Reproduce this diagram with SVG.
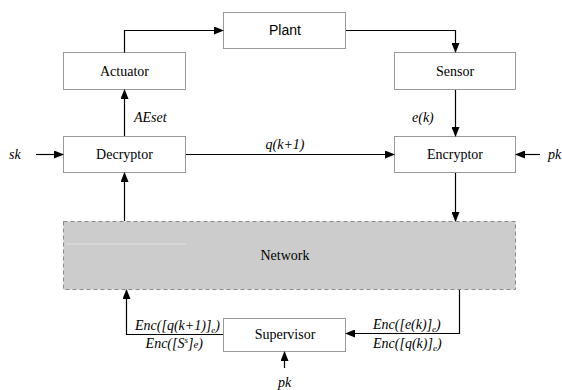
<svg xmlns="http://www.w3.org/2000/svg" width="562" height="390" viewBox="0 0 562 390">
<style>
.box{fill:#fff;stroke:#999;stroke-width:1}
.net{fill:#cccccc;stroke:#888;stroke-width:1;stroke-dasharray:4,3}
.t{font-family:'Liberation Serif','DejaVu Serif',serif;font-size:14px;fill:#000;text-anchor:middle}
.s{font-family:'Liberation Sans','DejaVu Sans',sans-serif;font-size:14px;fill:#000;text-anchor:middle}
.i{font-family:'Liberation Serif','DejaVu Serif',serif;font-size:14px;font-style:italic;fill:#000}
.ib{font-family:'Liberation Serif','DejaVu Serif',serif;font-size:14px;font-style:italic;fill:#000}
.c{fill:none;stroke:#000;stroke-width:1.2;marker-end:url(#ah)}
</style>
<defs>
<marker id="ah" markerWidth="10" markerHeight="8" refX="9" refY="4" orient="auto" markerUnits="userSpaceOnUse">
<path d="M0,0 L10,4 L0,8 Z" fill="#000"/>
</marker>
</defs>
<rect width="562" height="390" fill="#fff"/>
<g id="network">
<rect class="net" x="63.5" y="221.5" width="452" height="68"/>
<line x1="66" y1="244" x2="186" y2="244" stroke="#dedede" stroke-width="1"/>
<text class="t" x="285" y="260">Network</text>
</g>
<g id="plant"><rect class="box" x="223.5" y="12.5" width="122" height="36"/><text class="s" x="285" y="35">Plant</text></g>
<g id="actuator"><rect class="box" x="63.5" y="52.5" width="122" height="37"/><text class="t" x="124.5" y="76">Actuator</text></g>
<g id="sensor"><rect class="box" x="394.5" y="52.5" width="121" height="37"/><text class="t" x="455" y="76">Sensor</text></g>
<g id="decryptor"><rect class="box" x="63.5" y="136.5" width="122" height="36"/><text class="t" x="124.5" y="159">Decryptor</text></g>
<g id="encryptor"><rect class="box" x="394.5" y="136.5" width="121" height="36"/><text class="t" x="455" y="159">Encryptor</text></g>
<g id="supervisor"><rect class="box" x="223.5" y="318.5" width="122" height="33"/><text class="t" x="285" y="339">Supervisor</text></g>
<g id="connectors">
<path class="c" d="M124.5,52.5 V30.5 H223"/>
<path class="c" d="M346,30.5 H455.5 V52"/>
<path class="c" d="M124.5,136 V90"/>
<path class="c" d="M455.5,90 V136"/>
<path class="c" d="M36,154.5 H63"/>
<path class="c" d="M540,154.5 H516"/>
<path class="c" d="M186,154.5 H394"/>
<path class="c" d="M124.5,221 V173"/>
<path class="c" d="M455.5,173 V221"/>
<path class="c" d="M459.5,290 V333.5 H346"/>
<path class="c" d="M223,334.5 H126.5 V290"/>
<path class="c" d="M284.5,368 V352"/>
</g>
<g id="labels">
<text class="i" x="134" y="122">AEset</text>
<text class="i" x="412" y="122">e(k)</text>
<text class="i" x="285" y="149" text-anchor="middle">q(k+1)</text>
<text class="i" x="9" y="159">sk</text>
<text class="i" x="548" y="159">pk</text>
<text class="i" x="284.5" y="387" text-anchor="middle">pk</text>
<text class="ib" x="220" y="330" text-anchor="end">Enc([q(k+1)]<tspan font-size="9" dy="3">e</tspan><tspan dy="-3">)</tspan></text>
<text class="ib" x="203" y="348" text-anchor="end">Enc([S<tspan font-size="9" dy="-5">s</tspan><tspan dy="5">]</tspan><tspan font-size="11">e</tspan>)</text>
<text class="ib" x="373" y="329">Enc([e(k)]<tspan font-size="9" dy="3">e</tspan><tspan dy="-3">)</tspan></text>
<text class="ib" x="373" y="348">Enc([q(k)]<tspan font-size="9" dy="3">e</tspan><tspan dy="-3">)</tspan></text>
</g>
</svg>
